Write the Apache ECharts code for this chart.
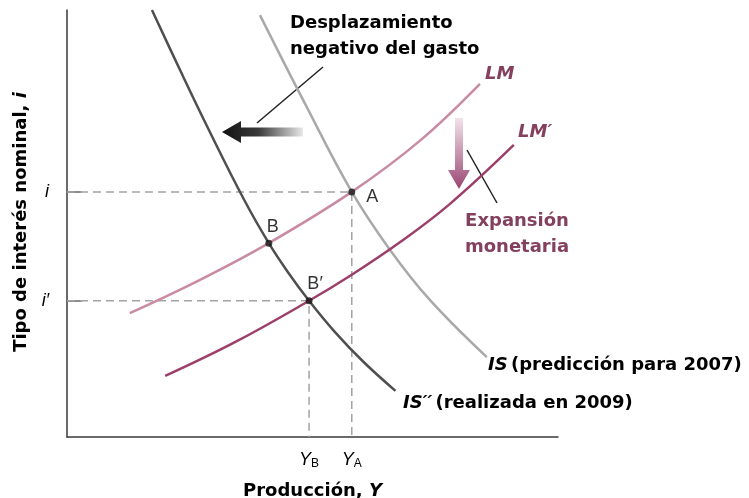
<!DOCTYPE html>
<html>
<head>
<meta charset="utf-8">
<script src="https://cdn.jsdelivr.net/npm/echarts@6/dist/echarts.min.js"></script>
<style>
  html, body { margin: 0; padding: 0; background: #fff; }
  #chart { width: 749px; height: 498px; }
</style>
</head>
<body>
<div id="chart"></div>
<script>
// curves (x: output 0-100, y: interest rate 0-100)
var isPrediccion = [[39.3, 98.8], [48.5, 78.0], [58.0, 57.4], [65.8, 43.8], [73.9, 32.1], [85.5, 18.7]];
var isRealizada = [[17.3, 100], [23.0, 86.0], [28.9, 71.9], [36.1, 55.5], [41.1, 45.4], [45.0, 38.6], [49.3, 31.9], [54.4, 24.8], [60.2, 17.8], [66.9, 10.8]];
var lmCurve = [[12.8, 29.0], [27.1, 36.8], [41.1, 45.4], [58.0, 57.4], [71.9, 69.4], [84.1, 82.7]];
var lmPrima = [[20.0, 14.3], [34.2, 22.2], [49.3, 31.9], [58.0, 38.0], [67.8, 45.6], [78.0, 54.6], [91.0, 68.4]];

// equilibrium points
var pointA = [58.0, 57.4];
var pointB = [41.1, 45.4];
var pointB2 = [49.3, 31.9];

// tick labels
var yTickValues = [pointB2[1], pointA[1]];
var yTickLabels = ['{it|i′}', '{it|i}'];
var xTickValues = [pointB2[0], pointA[0]];
var xTickLabels = ['{it|Y}{sub|B}', '{it|Y}{sub|A}'];

var fontBold = 'DejaVu Sans';
var fontReg = 'Liberation Sans';
var pinkText = '#83405f';

var chart = echarts.init(document.getElementById('chart'));

var tickRich = {
  it: { fontFamily: fontReg, fontStyle: 'italic', fontSize: 18, color: '#000' },
  sub: { fontFamily: fontReg, fontSize: 12, color: '#000', verticalAlign: 'bottom', padding: [9, 0, 0, 0] }
};

function dashed(data) {
  return {
    type: 'line',
    data: data,
    symbol: 'none',
    silent: true,
    z: 1,
    lineStyle: { color: '#a3a3a3', width: 1.5, type: [8, 5] }
  };
}

function curve(data, color) {
  return {
    type: 'line',
    data: data,
    smooth: 0.4,
    symbol: 'none',
    silent: true,
    z: 3,
    lineStyle: { color: color, width: 2.5 }
  };
}

function dot(p, name, pos, offset) {
  return {
    type: 'scatter',
    data: [p],
    symbol: 'circle',
    symbolSize: 7,
    z: 5,
    itemStyle: { color: '#151515' },
    label: {
      show: true,
      formatter: name,
      position: pos,
      distance: 6,
      offset: offset,
      color: '#000',
      fontFamily: fontReg,
      fontSize: 18
    }
  };
}

var option = {
  animation: false,
  grid: { left: 67, top: 10, width: 491, height: 427, outerBoundsMode: 'none', containLabel: false },
  xAxis: {
    type: 'value',
    min: 0,
    max: 100,
    name: '{n|Producción, }{v|Y}',
    nameLocation: 'middle',
    nameGap: 45,
    nameTextStyle: {
      rich: {
        n: { fontFamily: fontBold, fontWeight: 'bold', fontSize: 18, color: '#000' },
        v: { fontFamily: fontBold, fontWeight: 'bold', fontStyle: 'italic', fontSize: 18, color: '#000' }
      }
    },
    axisLine: { show: true, lineStyle: { color: '#3a3a3a', width: 1.5 } },
    axisTick: { show: false },
    axisLabel: {
      show: true,
      customValues: xTickValues,
      margin: 12,
      formatter: function (v) {
        return xTickLabels[xTickValues.indexOf(v)];
      },
      rich: tickRich
    },
    splitLine: { show: false }
  },
  yAxis: {
    type: 'value',
    min: 0,
    max: 100,
    axisLine: { show: true, lineStyle: { color: '#3a3a3a', width: 1.5 } },
    axisTick: {
      show: true,
      customValues: yTickValues,
      inside: true,
      length: 15,
      lineStyle: { color: '#666', width: 1.5 }
    },
    axisLabel: {
      show: true,
      customValues: yTickValues,
      margin: 18,
      formatter: function (v) {
        return yTickLabels[yTickValues.indexOf(v)];
      },
      rich: tickRich
    },
    splitLine: { show: false }
  },
  series: [
    dashed([[0, pointA[1]], pointA, [pointA[0], 0]]),
    dashed([[0, pointB2[1]], pointB2, [pointB2[0], 0]]),
    curve(isPrediccion, '#a9a9a9'),
    curve(isRealizada, '#4f4f4f'),
    curve(lmCurve, '#c98ba4'),
    curve(lmPrima, '#9c3f6b'),
    dot(pointA, 'A', 'right', [5, 5]),
    dot(pointB, 'B', 'top', [4, 2]),
    dot(pointB2, 'B′', 'top', [6, 2])
  ],
  graphic: [
    {
      type: 'text',
      x: 21, y: 222,
      rotation: Math.PI / 2,
      style: {
        text: '{n|Tipo de interés nominal, }{v|i}',
        align: 'center',
        verticalAlign: 'middle',
        rich: {
          n: { fontFamily: fontBold, fontWeight: 'bold', fontSize: 18, fill: '#000' },
          v: { fontFamily: fontBold, fontWeight: 'bold', fontStyle: 'italic', fontSize: 18, fill: '#000' }
        }
      }
    },
    {
      type: 'text',
      x: 290, y: 10,
      style: {
        text: 'Desplazamiento\nnegativo del gasto',
        fontFamily: fontBold, fontWeight: 'bold', fontSize: 18, lineHeight: 26, fill: '#000'
      }
    },
    {
      type: 'line',
      shape: { x1: 323, y1: 67, x2: 257, y2: 123 },
      style: { stroke: '#222', lineWidth: 1.5 }
    },
    {
      // spending shift arrow
      type: 'polygon',
      shape: { points: [[222, 132], [241, 121], [241, 127.5], [303, 127.5], [303, 136.5], [241, 136.5], [241, 143]] },
      style: {
        fill: new echarts.graphic.LinearGradient(0, 0, 1, 0, [
          { offset: 0, color: '#111' },
          { offset: 0.45, color: '#3a3a3a' },
          { offset: 1, color: '#e8e8e8' }
        ])
      }
    },
    {
      // monetary expansion arrow
      type: 'polygon',
      shape: { points: [[455, 118], [463, 118], [463, 170], [470, 170], [459, 189], [448, 170], [455, 170]] },
      style: {
        fill: new echarts.graphic.LinearGradient(0, 0, 0, 1, [
          { offset: 0, color: '#f3e3ea' },
          { offset: 1, color: '#9a4672' }
        ])
      }
    },
    {
      type: 'line',
      shape: { x1: 467, y1: 150, x2: 497, y2: 203 },
      style: { stroke: '#222', lineWidth: 1.5 }
    },
    {
      type: 'text',
      x: 485, y: 74,
      style: {
        text: 'LM', verticalAlign: 'middle',
        fontFamily: fontBold, fontWeight: 'bold', fontStyle: 'italic', fontSize: 18, fill: pinkText
      }
    },
    {
      type: 'text',
      x: 518, y: 132,
      style: {
        text: 'LM′', verticalAlign: 'middle',
        fontFamily: fontBold, fontWeight: 'bold', fontStyle: 'italic', fontSize: 18, fill: pinkText
      }
    },
    {
      type: 'text',
      x: 517, y: 208,
      style: {
        text: 'Expansión\nmonetaria', align: 'center', lineHeight: 26,
        fontFamily: fontBold, fontWeight: 'bold', fontSize: 18, fill: pinkText
      }
    },
    {
      type: 'text',
      x: 488, y: 365,
      style: {
        text: '{v|IS} {n|(predicción para 2007)}',
        verticalAlign: 'middle',
        rich: {
          n: { fontFamily: fontBold, fontWeight: 'bold', fontSize: 18, fill: '#000' },
          v: { fontFamily: fontBold, fontWeight: 'bold', fontStyle: 'italic', fontSize: 18, fill: '#000' }
        }
      }
    },
    {
      type: 'text',
      x: 403, y: 403,
      style: {
        text: '{v|IS′′} {n|(realizada en 2009)}',
        verticalAlign: 'middle',
        rich: {
          n: { fontFamily: fontBold, fontWeight: 'bold', fontSize: 18, fill: '#000' },
          v: { fontFamily: fontBold, fontWeight: 'bold', fontStyle: 'italic', fontSize: 18, fill: '#000' }
        }
      }
    }
  ]
};

chart.setOption(option);
</script>
</body>
</html>
